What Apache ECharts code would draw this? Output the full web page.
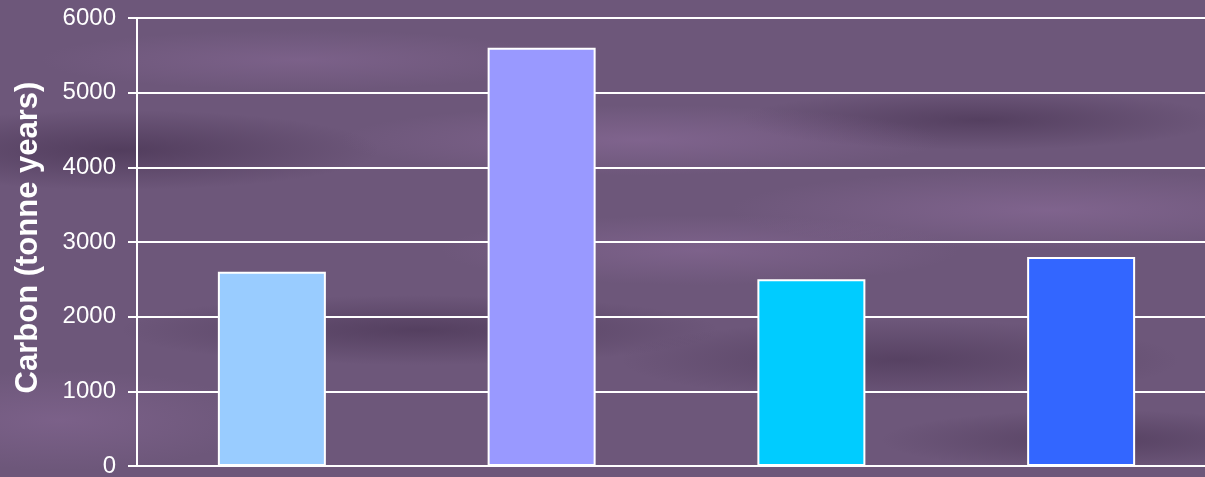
<!DOCTYPE html>
<html>
<head>
<meta charset="utf-8">
<script src="https://cdn.jsdelivr.net/npm/echarts@6/dist/echarts.min.js"></script>
<style>
html,body{margin:0;padding:0;width:1205px;height:477px;overflow:hidden;}
body{
  background-color:#6d577a;
  background-image:
    radial-gradient(ellipse 260px 40px at 120px 150px, rgba(60,40,70,0.55), rgba(60,40,70,0) 100%),
    radial-gradient(ellipse 300px 35px at 640px 140px, rgba(150,115,165,0.45), rgba(150,115,165,0) 100%),
    radial-gradient(ellipse 240px 30px at 980px 120px, rgba(60,40,70,0.5), rgba(60,40,70,0) 100%),
    radial-gradient(ellipse 320px 40px at 1050px 210px, rgba(150,115,165,0.45), rgba(150,115,165,0) 100%),
    radial-gradient(ellipse 300px 35px at 420px 330px, rgba(60,40,70,0.5), rgba(60,40,70,0) 100%),
    radial-gradient(ellipse 280px 40px at 900px 360px, rgba(60,40,70,0.45), rgba(60,40,70,0) 100%),
    radial-gradient(ellipse 260px 35px at 700px 250px, rgba(150,115,165,0.4), rgba(150,115,165,0) 100%),
    radial-gradient(ellipse 200px 50px at 60px 420px, rgba(150,115,165,0.35), rgba(150,115,165,0) 100%),
    radial-gradient(ellipse 220px 30px at 1100px 440px, rgba(60,40,70,0.45), rgba(60,40,70,0) 100%),
    radial-gradient(ellipse 260px 30px at 300px 60px, rgba(150,115,165,0.35), rgba(150,115,165,0) 100%);
}
#chart{width:1205px;height:477px;}
</style>
</head>
<body>
<div id="chart"></div>
<script>
const categories = ['A', 'B', 'C', 'D'];
const carbonValues = [2600, 5600, 2500, 2800];
const barColors = ['#99CCFF', '#9999FF', '#00CCFF', '#3366FF'];
const yTicks = [0, 1000, 2000, 3000, 4000, 5000, 6000];
const yAxisTitle = 'Carbon (tonne years)';

const chart = echarts.init(document.getElementById('chart'), null, {renderer: 'canvas'});
chart.setOption({
  backgroundColor: 'transparent',
  animation: false,
  grid: {left: 137, top: 18, bottom: 11, width: 1079, containLabel: false, outerBoundsMode: 'none'},
  xAxis: {
    type: 'category',
    data: categories,
    axisLine: {show: true, lineStyle: {color: '#ffffff', width: 2}},
    axisTick: {show: false},
    axisLabel: {show: false},
    splitLine: {show: false}
  },
  yAxis: {
    type: 'value',
    min: yTicks[0],
    max: yTicks[yTicks.length - 1],
    interval: 1000,
    name: yAxisTitle,
    nameLocation: 'middle',
    nameGap: 93,
    nameTextStyle: {color: '#ffffff', fontFamily: 'Liberation Sans, Arial, sans-serif', fontWeight: 'bold', fontSize: 31,
      padding: [0, 0, 0, 9]},
    axisLine: {show: true, lineStyle: {color: '#ffffff', width: 2}},
    axisTick: {show: true, length: 9, lineStyle: {color: '#ffffff', width: 2}},
    axisLabel: {color: '#ffffff', fontFamily: 'Liberation Sans, Arial, sans-serif', fontSize: 24, margin: 21,
      formatter: v => String(v)},
    splitLine: {show: true, lineStyle: {color: '#ffffff', width: 2}}
  },
  series: [{
    type: 'bar',
    data: carbonValues.map((v, i) => ({value: v, itemStyle: {color: barColors[i]}})),
    barWidth: 108,
    itemStyle: {borderColor: '#ffffff', borderWidth: 2}
  }]
});
</script>
</body>
</html>
